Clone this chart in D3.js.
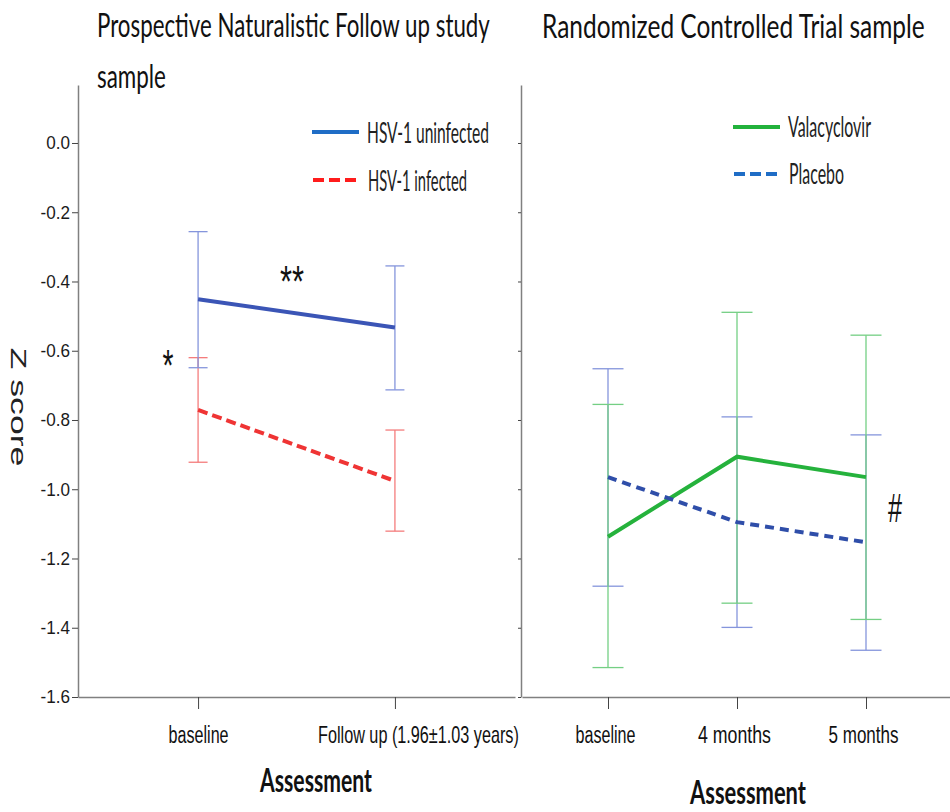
<!DOCTYPE html>
<html>
<head>
<meta charset="utf-8">
<script src="https://cdn.jsdelivr.net/npm/d3@7"></script>
<style>
body { margin: 0; background: #fff; }
.axis .domain { stroke: #808080; stroke-width: 1.5; }
.axis line { stroke: #444; }
</style>
</head>
<body>
<script>
// ---- data ----
var leftVisits = ["baseline", "Follow up (1.96±1.03 years)"];
var rightVisits = ["baseline", "4 months", "5 months"];
var yTicks = [0, -0.2, -0.4, -0.6, -0.8, -1.0, -1.2, -1.4, -1.6];

// HSV-1 uninfected / infected: mean and error bar ends
var uninfMean = [-0.451, -0.533];
var uninfLow  = [-0.649, -0.713];
var uninfHigh = [-0.256, -0.355];
var infMean = [-0.771, -0.976];
var infLow  = [-0.922, -1.121];
var infHigh = [-0.620, -0.829];

// Valacyclovir / Placebo
var valaMean = [-1.137, -0.906, -0.965];
var valaLow  = [-1.515, -1.329, -1.376];
var valaHigh = [-0.755, -0.489, -0.555];
var placMean = [-0.965, -1.095, -1.153];
var placLow  = [-1.280, -1.399, -1.465];
var placHigh = [-0.652, -0.791, -0.843];

var width = 950, height = 812;

var svg = d3.select("body").append("svg")
    .attr("width", width)
    .attr("height", height)
    .style("font-family", "Lato, 'Open Sans', sans-serif");

// squeeze a text horizontally to a given width (the source picture is narrowed)
function fit(sel, w) {
    sel.each(function() {
        var t = d3.select(this);
        var len = this.getComputedTextLength();
        var x = +t.attr("x") || 0, yy = +t.attr("y") || 0, dx = +t.attr("dx") || 0;
        var base = t.attr("transform") || "";
        t.attr("x", null).attr("y", null).attr("dx", null)
            .attr("transform", base + " translate(" + (x + dx) + "," + yy + ") scale(" + (w / len) + ",1)");
    });
    return sel;
}

var y = d3.scaleLinear()
    .domain([-1.6, 0.1675])
    .range([697, 85]);

var xL = d3.scalePoint().domain(leftVisits).range([78, 515]).padding(0.61);
var xR = d3.scalePoint().domain(rightVisits).range([522, 952]).padding(2 / 3);

// ---- axes ----
svg.append("g")
    .attr("class", "axis")
    .attr("transform", "translate(78,0)")
    .call(d3.axisLeft(y).tickValues(yTicks).tickSize(6).tickSizeOuter(0)
        .tickFormat(function(d) { return d.toFixed(1); }))
    .selectAll("text")
    .style("font-family", "'Liberation Sans', Arial, sans-serif")
    .style("font-size", "18px")
    .attr("fill", "#1a1a1a")
    .attr("x", -8)
    .each(function() { fit(d3.select(this), this.getComputedTextLength() * 0.95); });

svg.append("g")
    .attr("class", "axis")
    .attr("transform", "translate(521,0)")
    .call(d3.axisLeft(y).tickValues(yTicks).tickSize(3).tickSizeOuter(0).tickFormat(""));

var labelW = {"baseline": 60, "Follow up (1.96±1.03 years)": 201, "4 months": 73, "5 months": 70};

svg.append("g")
    .attr("class", "axis")
    .attr("transform", "translate(0,697)")
    .call(d3.axisBottom(xL).tickSize(12).tickSizeOuter(0))
    .selectAll("text")
    .style("font-size", "24px")
    .attr("fill", "#111")
    .attr("y", 46).attr("dy", 0)
    .attr("dx", function(d, i) { return i == 1 ? 23 : 0; })
    .each(function(d) { fit(d3.select(this), labelW[d]); });

svg.append("g")
    .attr("class", "axis")
    .attr("transform", "translate(0,697)")
    .call(d3.axisBottom(xR).tickSize(12).tickSizeOuter(0))
    .selectAll("text")
    .style("font-size", "24px")
    .attr("fill", "#111")
    .attr("y", 46).attr("dy", 0)
    .attr("dx", -3)
    .each(function(d) { fit(d3.select(this), labelW[d]); });

// axis titles
fit(svg.append("text").attr("x", 316).attr("y", 792).attr("text-anchor", "middle")
    .style("font-size", "33px").style("font-weight", "bold").attr("fill", "#111")
    .text("Assessment"), 112);
fit(svg.append("text").attr("x", 748).attr("y", 804).attr("text-anchor", "middle")
    .style("font-size", "32px").style("font-weight", "bold").attr("fill", "#111")
    .text("Assessment"), 116);

fit(svg.append("text")
    .attr("transform", "translate(19,407) rotate(90)")
    .attr("text-anchor", "middle").attr("dominant-baseline", "central")
    .style("font-family", "'Liberation Sans', Arial, sans-serif")
    .style("font-size", "22px").attr("fill", "#222")
    .text("Z score"), 119);

// panel titles
fit(svg.append("text").attr("x", 97).attr("y", 37).style("font-size", "32px").attr("fill", "#111")
    .text("Prospective Naturalistic Follow up study"), 393);
fit(svg.append("text").attr("x", 97).attr("y", 88).style("font-size", "32px").attr("fill", "#111")
    .text("sample"), 69);
fit(svg.append("text").attr("x", 542).attr("y", 38).style("font-size", "32px").attr("fill", "#111")
    .text("Randomized Controlled Trial sample"), 383);

// ---- error bars and lines ----
function errorBars(x, low, high, color, cap) {
    var g = svg.append("g").attr("stroke", color).attr("stroke-width", 1.3).attr("fill", "none");
    var doms = x.domain();
    g.selectAll(".v").data(doms).enter().append("line")
        .attr("x1", function(d) { return x(d); }).attr("x2", function(d) { return x(d); })
        .attr("y1", function(d, i) { return y(high[i]); })
        .attr("y2", function(d, i) { return y(low[i]); });
    g.selectAll(".hi").data(doms).enter().append("line")
        .attr("x1", function(d) { return x(d) - cap; }).attr("x2", function(d) { return x(d) + cap; })
        .attr("y1", function(d, i) { return y(high[i]); })
        .attr("y2", function(d, i) { return y(high[i]); });
    g.selectAll(".lo").data(doms).enter().append("line")
        .attr("x1", function(d) { return x(d) - cap; }).attr("x2", function(d) { return x(d) + cap; })
        .attr("y1", function(d, i) { return y(low[i]); })
        .attr("y2", function(d, i) { return y(low[i]); });
}

function meanLine(x, mean, color, dash) {
    var line = d3.line()
        .x(function(d, i) { return x(x.domain()[i]); })
        .y(function(d) { return y(d); });
    svg.append("path")
        .datum(mean)
        .attr("d", line)
        .attr("fill", "none")
        .attr("stroke", color)
        .attr("stroke-width", 4)
        .attr("stroke-dasharray", dash || null);
}

errorBars(xL, infLow, infHigh, "#f47c7c", 9.5);
errorBars(xL, uninfLow, uninfHigh, "#8595dc", 9.5);
meanLine(xL, uninfMean, "#3b55b6");
meanLine(xL, infMean, "#ef3434", "10,5");

errorBars(xR, placLow, placHigh, "#8595dc", 15.5);
errorBars(xR, valaLow, valaHigh, "#74cf84", 15.5);
meanLine(xR, valaMean, "#25b23c");
meanLine(xR, placMean, "#2f4ea9", "9,6");

// significance marks
fit(svg.append("text").attr("x", 292).attr("y", 297).attr("text-anchor", "middle")
    .style("font-family", "'Liberation Sans', Arial, sans-serif").style("font-size", "44px")
    .attr("fill", "#111").text("**"), 24);
fit(svg.append("text").attr("x", 168).attr("y", 381).attr("text-anchor", "middle")
    .style("font-family", "'Liberation Sans', Arial, sans-serif").style("font-size", "44px")
    .attr("fill", "#111").text("*"), 11);
fit(svg.append("text").attr("x", 895).attr("y", 522).attr("text-anchor", "middle")
    .style("font-family", "'Liberation Sans', Arial, sans-serif").style("font-size", "40px")
    .attr("fill", "#111").text("#"), 14);

// ---- legends ----
function legendItem(x0, yy, color, dash, label, w) {
    svg.append("line")
        .attr("x1", x0).attr("x2", x0 + 47)
        .attr("y1", yy).attr("y2", yy)
        .attr("stroke", color).attr("stroke-width", 4)
        .attr("stroke-dasharray", dash || null);
    fit(svg.append("text").attr("x", x0 + 55).attr("y", yy)
        .attr("dominant-baseline", "central")
        .style("font-size", "28px").attr("fill", "#222")
        .text(label), w);
}

legendItem(312, 132, "#1f6dc6", null, "HSV-1 uninfected", 122);
legendItem(313, 180, "#ff1c1c", "11,5", "HSV-1 infected", 99);
legendItem(733, 127, "#22b23c", null, "Valacyclovir", 83);
legendItem(734, 174, "#1f6dc6", "11,5", "Placebo", 55);
</script>
</body>
</html>
